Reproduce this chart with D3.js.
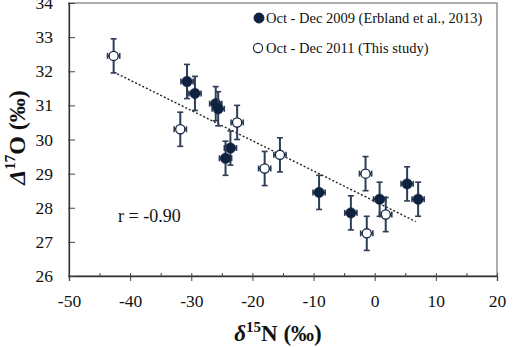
<!DOCTYPE html>
<html>
<head>
<meta charset="utf-8">
<script src="https://cdn.jsdelivr.net/npm/d3@7"></script>
<style>
  body { margin: 0; background: #fff; }
  svg text { font-family: "Liberation Serif", "Times New Roman", "DejaVu Serif", serif !important; }
</style>
</head>
<body>
<svg width="527" height="347"></svg>
<script>
// Oct - Dec 2009 (Erbland et al., 2013)
const x2009 = [-30.7, -29.4, -26.0, -25.6, -23.6, -24.4, -9.1, -3.9, 0.8, 5.3, 7.1];
const y2009 = [31.7, 31.35, 31.05, 30.9, 29.75, 29.45, 28.45, 27.85, 28.25, 28.7, 28.25];
// Oct - Dec 2011 (This study)
const x2011 = [-42.7, -31.8, -22.5, -18.0, -15.5, -1.5, -1.3, 1.8];
const y2011 = [32.45, 30.3, 30.5, 29.15, 29.55, 29.0, 27.25, 27.8];

const xErr = 1.0;
const yErr = 0.5;

// dotted regression line
const trendX = [-42.7, 6.7];
const slope = -0.0887;
const intercept = 28.19;

const xTicks = [-50, -40, -30, -20, -10, 0, 10, 20];
const xMinor = [-45, -35, -25, -15, -5, 5, 15];
const yTicks = [26, 27, 28, 29, 30, 31, 32, 33, 34];

const margin = { left: 69, right: 30, top: 3, bottom: 71 };
const width = 527;
const height = 347;

const serif = "'Liberation Serif', 'Times New Roman', serif";
const navy = "#0e2240";
const barColor = "#2e3d55";

const svg = d3.select("svg").attr("font-family", serif);

const x = d3.scaleLinear().domain([-50, 20]).range([margin.left, width - margin.right]);
const y = d3.scaleLinear().domain([26, 34]).range([height - margin.bottom, margin.top]);

const fmt = (d) => String(d); // plain hyphen minus like the original

// plot frame
svg.append("rect")
  .attr("x", x(-50))
  .attr("y", y(34))
  .attr("width", x(20) - x(-50))
  .attr("height", y(26) - y(34))
  .attr("fill", "none")
  .attr("stroke", "#777")
  .attr("stroke-width", 1.2);

// x axis
const xAxis = svg.append("g")
  .attr("transform", `translate(0,${y(26)})`)
  .call(d3.axisBottom(x).tickValues(xTicks).tickSize(5).tickPadding(14).tickFormat(fmt))
  .attr("font-family", serif);
xAxis.selectAll(".tick line").attr("y1", -3).attr("stroke", "#444");
xAxis.select(".domain").attr("stroke", "#333").attr("stroke-width", 1.3);
xAxis.selectAll(".tick text")
  .attr("font-size", 17.5)
  .attr("fill", "#111");

svg.append("g")
  .attr("transform", `translate(0,${y(26)})`)
  .call(d3.axisBottom(x).tickValues(xMinor).tickSize(-3).tickFormat(""))
  .call((g) => g.select(".domain").remove())
  .selectAll(".tick line").attr("stroke", "#444");

// y axis
const yAxis = svg.append("g")
  .attr("transform", `translate(${x(-50)},0)`)
  .call(d3.axisLeft(y).tickValues(yTicks).tickSize(1).tickPadding(15).tickFormat(fmt))
  .attr("font-family", serif);
yAxis.selectAll(".tick line").attr("x2", 6).attr("x1", -1).attr("stroke", "#444");
yAxis.select(".domain").attr("stroke", "#333").attr("stroke-width", 1.3);
yAxis.selectAll(".tick text")
  .attr("font-size", 17.5)
  .attr("fill", "#111");

// trend line
svg.append("line")
  .attr("x1", x(trendX[0]))
  .attr("y1", y(intercept + slope * trendX[0]))
  .attr("x2", x(trendX[1]))
  .attr("y2", y(intercept + slope * trendX[1]))
  .attr("stroke", "#222")
  .attr("stroke-width", 1.4)
  .attr("stroke-dasharray", "2,2");

function drawSeries(xs, ys, filled) {
  const pts = xs.map((d, i) => ({ x: d, y: ys[i] }));
  const g = svg.append("g");
  const pt = g.selectAll("g").data(pts).join("g");

  // vertical error bars
  pt.append("line")
    .attr("x1", (d) => x(d.x)).attr("x2", (d) => x(d.x))
    .attr("y1", (d) => y(d.y - yErr)).attr("y2", (d) => y(d.y + yErr))
    .attr("stroke", barColor).attr("stroke-width", 2);
  [-1, 1].forEach((s) => {
    pt.append("line")
      .attr("x1", (d) => x(d.x) - 3).attr("x2", (d) => x(d.x) + 3)
      .attr("y1", (d) => y(d.y + s * yErr)).attr("y2", (d) => y(d.y + s * yErr))
      .attr("stroke", barColor).attr("stroke-width", 1.6);
  });
  // horizontal error bars
  pt.append("line")
    .attr("x1", (d) => x(d.x - xErr)).attr("x2", (d) => x(d.x + xErr))
    .attr("y1", (d) => y(d.y)).attr("y2", (d) => y(d.y))
    .attr("stroke", barColor).attr("stroke-width", 2);
  [-1, 1].forEach((s) => {
    pt.append("line")
      .attr("x1", (d) => x(d.x + s * xErr)).attr("x2", (d) => x(d.x + s * xErr))
      .attr("y1", (d) => y(d.y) - 3).attr("y2", (d) => y(d.y) + 3)
      .attr("stroke", barColor).attr("stroke-width", 1.6);
  });

  pt.append("circle")
    .attr("cx", (d) => x(d.x))
    .attr("cy", (d) => y(d.y))
    .attr("r", filled ? 5.2 : 4.6)
    .attr("fill", filled ? navy : "#fff")
    .attr("stroke", navy)
    .attr("stroke-width", filled ? 0.5 : 1.3);
}

drawSeries(x2011, y2011, false);
drawSeries(x2009, y2009, true);

// legend
const legend = svg.append("g");
legend.append("circle").attr("cx", 259).attr("cy", 18).attr("r", 5)
  .attr("fill", navy).attr("stroke", navy);
legend.append("text").attr("x", 266).attr("y", 23)
  .attr("font-size", 14.5).attr("fill", "#111")
  .text("Oct - Dec 2009 (Erbland et al., 2013)");
legend.append("circle").attr("cx", 258).attr("cy", 48).attr("r", 4.6)
  .attr("fill", "#fff").attr("stroke", navy).attr("stroke-width", 1.1);
legend.append("text").attr("x", 266).attr("y", 53)
  .attr("font-size", 14.5).attr("fill", "#111")
  .text("Oct - Dec 2011 (This study)");

// r value
svg.append("text")
  .attr("x", 118).attr("y", 222)
  .attr("font-size", 18).attr("fill", "#111")
  .text("r = -0.90");

// axis titles
const xt = svg.append("text")
  .attr("x", (x(-50) + x(20)) / 2 - 5)
  .attr("y", 341)
  .attr("text-anchor", "middle")
  .attr("font-size", 23)
  .attr("font-weight", "bold")
  .attr("fill", "#111");
xt.append("tspan").attr("font-style", "italic").text("δ");
xt.append("tspan").attr("font-size", 15).attr("dy", -9).text("15");
xt.append("tspan").attr("dy", 9).text("N (‰)");

const yt = svg.append("text")
  .attr("transform", `translate(25,${y(30) - 2}) rotate(-90)`)
  .attr("text-anchor", "middle")
  .attr("font-size", 24)
  .attr("font-weight", "bold")
  .attr("fill", "#111");
yt.append("tspan").attr("font-style", "italic").text("Δ");
yt.append("tspan").attr("font-size", 15).attr("dy", -10).text("17");
yt.append("tspan").attr("dy", 10).text("O (‰)");
</script>
</body>
</html>
